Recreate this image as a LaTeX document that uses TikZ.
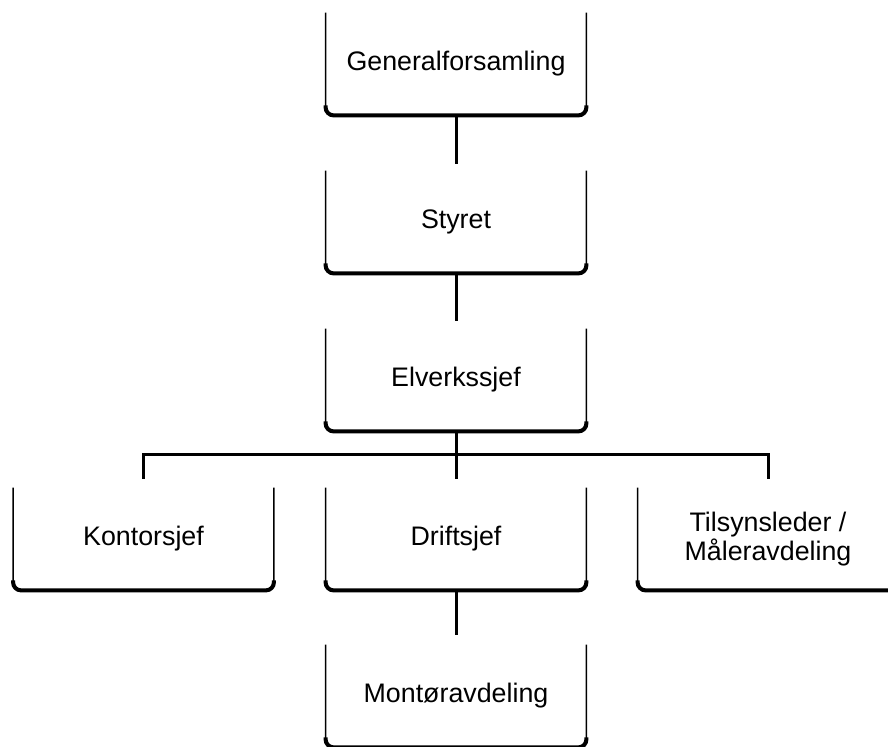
\documentclass[tikz,border=0pt]{standalone}
\usepackage{fontspec}
\setmainfont{Liberation Sans}
\begin{document}
\begin{tikzpicture}[x=0.5pt,y=-0.5pt,
  orgbox/.style={minimum width=130pt,minimum height=51pt,inner sep=0pt,align=center,
    font=\fontsize{13.4}{12.5}\selectfont},
  sideline/.style={line width=0.7pt,rounded corners=4pt},
  bottomline/.style={line width=2pt,rounded corners=4pt},
  conn/.style={line width=1.5pt}]
\useasboundingbox (0,0) rectangle (888,747);
\clip (0,0) rectangle (888,747);
\newcommand\openbox[1]{%
  \draw[sideline] (#1.north west) -- (#1.south west) -- (#1.south east) -- (#1.north east);
  \draw[bottomline] ([yshift=5pt]#1.south west) -- (#1.south west) -- (#1.south east) -- ([yshift=5pt]#1.south east);}
\node[orgbox] (g) at (456,64) {Generalforsamling};
\node[orgbox] (s) at (456,222) {Styret};
\node[orgbox] (e) at (456,380) {Elverkssjef};
\node[orgbox] (k) at (143.5,539) {Kontorsjef};
\node[orgbox] (d) at (456,539) {Driftsjef};
\node[orgbox] (t) at (768,539) {Tilsynsleder /\\Måleravdeling};
\node[orgbox] (m) at (456,696) {Montøravdeling};
\foreach \n in {g,s,e,k,d,t,m} {\openbox{\n}}
\coordinate (bar) at (456,455);
\draw[conn] (g.south) -- ([yshift=3.5pt]s.north);
\draw[conn] (s.south) -- ([yshift=4pt]e.north);
\draw[conn] (e.south) -- (bar);
\draw[conn] ([yshift=4.5pt]k.north) |- (bar) -| ([yshift=4.5pt]t.north);
\draw[conn] (bar) -- ([yshift=4.5pt]d.north);
\draw[conn] (d.south) -- ([yshift=5pt]m.north);
\end{tikzpicture}
\end{document}
